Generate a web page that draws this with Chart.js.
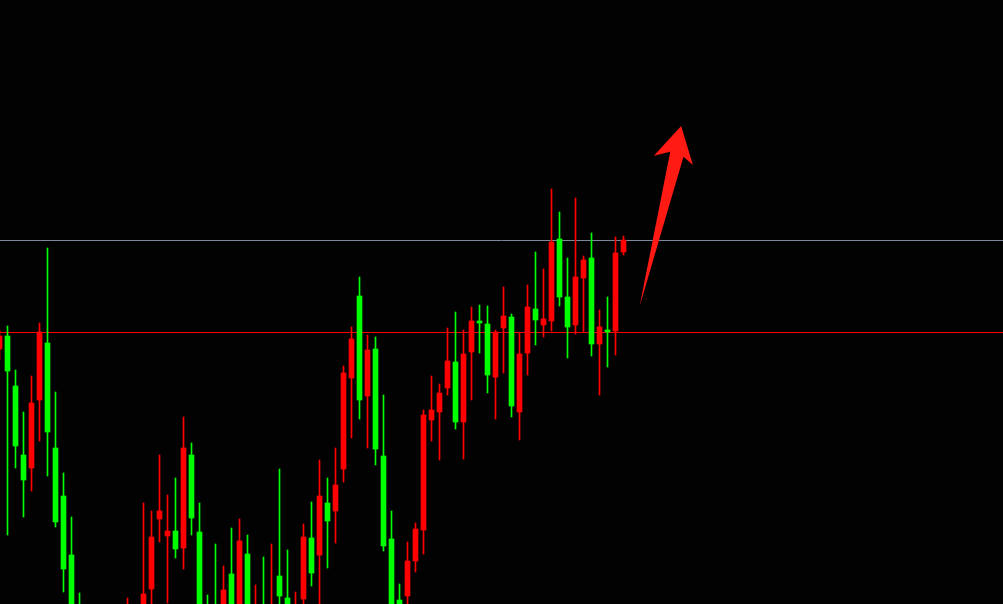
<!DOCTYPE html>
<html>
<head>
<meta charset="utf-8">
<script src="https://cdn.jsdelivr.net/npm/chart.js@4/dist/chart.umd.min.js"></script>
<style>
  html, body { margin: 0; padding: 0; background: #020202; }
  #wrap { width: 1003px; height: 604px; position: relative; }
</style>
</head>
<body>
<div id="wrap"><canvas id="chart"></canvas></div>
<script>
// OHLC per bar, index 0 is the partly hidden bar at the left edge
const opens  = [651,664,614,545,532,600,657,552,504,445,392,355,375,348,380,360,370,390,375,411,481,464,469,452,545,468,392,390,375,426,385,446,370,392,378,424,402,382,401,462,445,497,489,531,622,704,604,651,544,461,400,404,439,470,580,588,612,638,578,648,679,676,623,672,683,588,647,691,675,679,761,703,675,722,742,656,670,669,748];
const highs  = [670,674,630,588,624,677,752,608,527,483,407,380,388,385,392,390,402,394,497,489,545,505,522,583,557,497,405,456,434,472,481,465,415,443,456,531,450,408,476,498,540,522,552,634,673,723,665,663,605,489,416,458,477,590,624,616,672,688,670,693,695,694,670,713,686,667,715,748,731,811,788,742,802,744,767,690,703,763,764];
const lows   = [640,465,532,483,509,559,524,473,408,370,340,345,340,335,355,350,360,350,360,385,458,397,442,431,465,375,360,355,365,370,375,380,360,365,368,385,370,372,390,414,390,432,457,518,562,581,552,535,449,370,360,385,428,446,559,540,605,571,541,600,647,607,581,627,583,560,625,655,663,669,694,642,666,668,644,605,633,645,745];
const closes = [664,629,554,520,597,668,568,478,431,385,352,372,350,378,362,384,392,365,406,463,489,469,451,552,482,388,370,372,410,380,459,390,390,375,394,404,380,392,463,427,504,479,515,627,661,600,650,551,454,385,370,439,471,585,590,607,639,578,646,679,677,625,668,684,594,646,693,680,681,758,703,673,723,740,656,673,668,747,760];
const firstIndex = -1;

// horizontal levels
const levelPrices = [759.5, 667.5];
const levelColors = ['#7a8a9c', '#ff0000'];

// arrow outline, in bar index / price units
const arrowX = [79.0, 82.84, 80.79, 84.21, 85.68, 84.5];
const arrowY = [693.3, 848.3, 844.3, 874, 835, 843.3];

const UP = '#ff0000';
const DOWN = '#00ff00';

const wicks = [], bodies = [], colors = [];
for (let i = 0; i < opens.length; i++) {
  const x = firstIndex + i;
  wicks.push({ x: x, y: [lows[i], highs[i]] });
  bodies.push({ x: x, y: [Math.min(opens[i], closes[i]), Math.max(opens[i], closes[i])] });
  colors.push(closes[i] >= opens[i] ? UP : DOWN);
}

// levels sit behind the candles
const levelSets = levelPrices.map((p, i) => ({
  type: 'line',
  data: [{ x: -2, y: p }, { x: 130, y: p }],
  borderColor: levelColors[i],
  borderWidth: 1,
  pointRadius: 0,
  order: 5
}));

const arrowPlugin = {
  id: 'arrow',
  afterDatasetsDraw(chart) {
    const { ctx, scales } = chart;
    ctx.save();
    ctx.beginPath();
    arrowX.forEach((v, i) => {
      const px = scales.x.getPixelForValue(v);
      const py = scales.y.getPixelForValue(arrowY[i]);
      if (i === 0) ctx.moveTo(px, py); else ctx.lineTo(px, py);
    });
    ctx.closePath();
    ctx.fillStyle = '#ff1a14';
    ctx.fill();
    ctx.restore();
  }
};

new Chart(document.getElementById('chart'), {
  type: 'bar',
  data: {
    datasets: [
      ...levelSets,
      {
        data: bodies,
        backgroundColor: colors,
        barThickness: 5,
        minBarLength: 1,
        grouped: false,
        order: 1
      },
      {
        data: wicks,
        backgroundColor: colors,
        barThickness: 1,
        grouped: false,
        order: 2
      }
    ]
  },
  options: {
    responsive: true,
    maintainAspectRatio: false,
    animation: false,
    layout: { padding: 0 },
    plugins: { legend: { display: false }, tooltip: { enabled: false } },
    scales: {
      x: { type: 'linear', display: false, offset: false, min: -0.9375, max: 124.4375 },
      y: { type: 'linear', display: false, min: 396, max: 1000 }
    }
  },
  plugins: [arrowPlugin]
});
</script>
</body>
</html>
